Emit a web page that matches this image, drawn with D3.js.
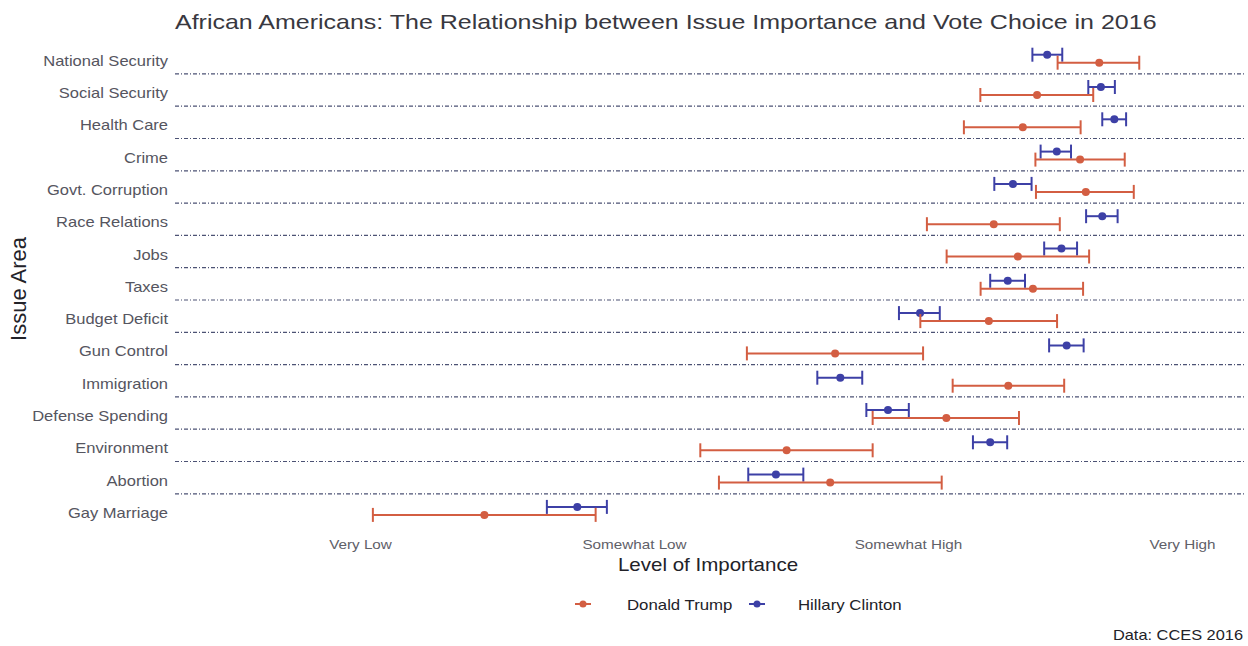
<!DOCTYPE html>
<html>
<head>
<meta charset="utf-8">
<script src="https://cdn.jsdelivr.net/npm/d3@7/dist/d3.min.js"></script>
<style>
  html, body { margin: 0; padding: 0; background: #ffffff; }
  svg { display: block; font-family: "Liberation Sans", Arial, sans-serif; }
</style>
</head>
<body>
<svg id="chart" width="1248" height="646"></svg>
<script>
// Issue areas, top to bottom
const categories = [
  "National Security", "Social Security", "Health Care", "Crime",
  "Govt. Corruption", "Race Relations", "Jobs", "Taxes", "Budget Deficit",
  "Gun Control", "Immigration", "Defense Spending", "Environment",
  "Abortion", "Gay Marriage"
];

// Mean importance (1 = Very Low ... 4 = Very High) with interval bounds
const trumpMean = [3.698, 3.471, 3.419, 3.628, 3.649, 3.313, 3.401, 3.456, 3.295, 2.734, 3.366, 3.140, 2.557, 2.716, 1.454];
const trumpLow  = [3.546, 3.264, 3.204, 3.465, 3.467, 3.069, 3.141, 3.265, 3.045, 2.412, 3.163, 2.871, 2.242, 2.310, 1.047];
const trumpHigh = [3.844, 3.676, 3.630, 3.791, 3.824, 3.554, 3.661, 3.639, 3.544, 3.055, 3.570, 3.405, 2.871, 3.123, 1.860];

const clintonMean = [3.508, 3.704, 3.753, 3.543, 3.383, 3.709, 3.560, 3.364, 3.044, 3.579, 2.753, 2.927, 3.300, 2.518, 1.793];
const clintonLow  = [3.454, 3.658, 3.709, 3.484, 3.315, 3.650, 3.497, 3.300, 2.967, 3.515, 2.669, 2.848, 3.237, 2.417, 1.682];
const clintonHigh = [3.563, 3.755, 3.796, 3.595, 3.451, 3.765, 3.617, 3.427, 3.116, 3.641, 2.833, 3.003, 3.362, 2.618, 1.901];

const tickValues = [1, 2, 3, 4];
const tickLabels = ["Very Low", "Somewhat Low", "Somewhat High", "Very High"];

const seriesNames = ["Donald Trump", "Hillary Clinton"];
const seriesColors = { "Donald Trump": "#d35e42", "Hillary Clinton": "#3d40a6" };

const svg = d3.select("#chart");

const x = d3.scaleLinear().domain([1, 4]).range([360, 1182]);
const y = d3.scalePoint().domain(categories).range([58.7, 510.9]);
const step = y.step();
const dodge = { "Hillary Clinton": -4, "Donald Trump": 4 };
const panelLeft = 175, panelRight = 1245;

// text in this chart is set slightly wide
function wide(sel, sx) {
  sel.each(function () {
    const t = d3.select(this);
    const tx = +t.attr("data-x") || 0, ty = +t.attr("data-y") || 0;
    t.attr("transform", `translate(${tx},${ty}) scale(${sx},1)`);
  });
}

// Title
svg.append("text")
  .attr("data-x", 175).attr("data-y", 29)
  .attr("font-size", 21).attr("fill", "#383840")
  .text("African Americans: The Relationship between Issue Importance and Vote Choice in 2016")
  .call(wide, 1.19);

// Dot-dash separators between issue rows
svg.append("g").selectAll("line")
  .data(categories.slice(0, -1))
  .join("line")
  .attr("x1", panelLeft).attr("x2", panelRight)
  .attr("y1", d => y(d) + step * 0.47)
  .attr("y2", d => y(d) + step * 0.47)
  .attr("stroke", "#4c5274")
  .attr("stroke-width", 1.2)
  .attr("stroke-dasharray", "4,2,1,2");

// Y axis (issue labels)
const yAxis = svg.append("g")
  .attr("transform", `translate(${panelLeft},0)`)
  .call(d3.axisLeft(y).tickSize(0).tickPadding(0));
yAxis.select(".domain").remove();
yAxis.selectAll(".tick text")
  .attr("x", null).attr("dy", null)
  .attr("dominant-baseline", "central")
  .attr("text-anchor", "end")
  .attr("font-size", 14)
  .attr("font-family", "Liberation Sans, Arial, sans-serif")
  .attr("fill", "#555560")
  .attr("data-x", -7).attr("data-y", 1.5)
  .call(wide, 1.18);

// X axis (importance levels)
const xAxis = svg.append("g")
  .attr("transform", "translate(0,530)")
  .call(d3.axisBottom(x).tickValues(tickValues)
    .tickFormat((d, i) => tickLabels[i]).tickSize(0).tickPadding(0));
xAxis.select(".domain").remove();
xAxis.selectAll(".tick text")
  .attr("y", null).attr("dy", null)
  .attr("dominant-baseline", "central")
  .attr("font-size", 13.5)
  .attr("font-family", "Liberation Sans, Arial, sans-serif")
  .attr("fill", "#606068")
  .attr("data-x", 0).attr("data-y", 14)
  .call(wide, 1.13);

// Axis titles
svg.append("text")
  .attr("data-x", 708).attr("data-y", 571)
  .attr("text-anchor", "middle")
  .attr("font-size", 18).attr("fill", "#222228")
  .text("Level of Importance")
  .call(wide, 1.14);

svg.append("text")
  .attr("transform", "translate(26,289) rotate(-90)")
  .attr("text-anchor", "middle")
  .attr("font-size", 22).attr("fill", "#222228")
  .text("Issue Area");

// Interval + point marks for each candidate
const rows = [];
categories.forEach((c, i) => {
  rows.push({ cat: c, series: "Hillary Clinton", mean: clintonMean[i], lo: clintonLow[i], hi: clintonHigh[i] });
  rows.push({ cat: c, series: "Donald Trump", mean: trumpMean[i], lo: trumpLow[i], hi: trumpHigh[i] });
});

const capHalf = 7;
const marks = svg.append("g").selectAll("g")
  .data(rows)
  .join("g")
  .attr("stroke", d => seriesColors[d.series])
  .attr("fill", d => seriesColors[d.series]);

marks.append("line")
  .attr("x1", d => x(d.lo)).attr("x2", d => x(d.hi))
  .attr("y1", d => y(d.cat) + dodge[d.series])
  .attr("y2", d => y(d.cat) + dodge[d.series])
  .attr("stroke-width", 2);
marks.append("line")
  .attr("x1", d => x(d.lo)).attr("x2", d => x(d.lo))
  .attr("y1", d => y(d.cat) + dodge[d.series] - capHalf)
  .attr("y2", d => y(d.cat) + dodge[d.series] + capHalf)
  .attr("stroke-width", 2);
marks.append("line")
  .attr("x1", d => x(d.hi)).attr("x2", d => x(d.hi))
  .attr("y1", d => y(d.cat) + dodge[d.series] - capHalf)
  .attr("y2", d => y(d.cat) + dodge[d.series] + capHalf)
  .attr("stroke-width", 2);
marks.append("circle")
  .attr("cx", d => x(d.mean))
  .attr("cy", d => y(d.cat) + dodge[d.series])
  .attr("r", 4)
  .attr("stroke", "none");

// Legend
const legendItems = [
  { name: seriesNames[0], gx: 583, tx: 627 },
  { name: seriesNames[1], gx: 757, tx: 798 }
];
const legend = svg.append("g").selectAll("g")
  .data(legendItems)
  .join("g");
legend.append("line")
  .attr("x1", d => d.gx - 8).attr("x2", d => d.gx + 8)
  .attr("y1", 604).attr("y2", 604)
  .attr("stroke", d => seriesColors[d.name]).attr("stroke-width", 2);
legend.append("circle")
  .attr("cx", d => d.gx).attr("cy", 604).attr("r", 3.5)
  .attr("fill", d => seriesColors[d.name]);
legend.append("text")
  .attr("data-x", d => d.tx).attr("data-y", 610)
  .attr("font-size", 14).attr("fill", "#222228")
  .text(d => d.name)
  .call(wide, 1.2);

// Source caption
svg.append("text")
  .attr("data-x", 1243).attr("data-y", 640)
  .attr("text-anchor", "end")
  .attr("font-size", 14).attr("fill", "#222228")
  .text("Data: CCES 2016")
  .call(wide, 1.17);
</script>
</body>
</html>
